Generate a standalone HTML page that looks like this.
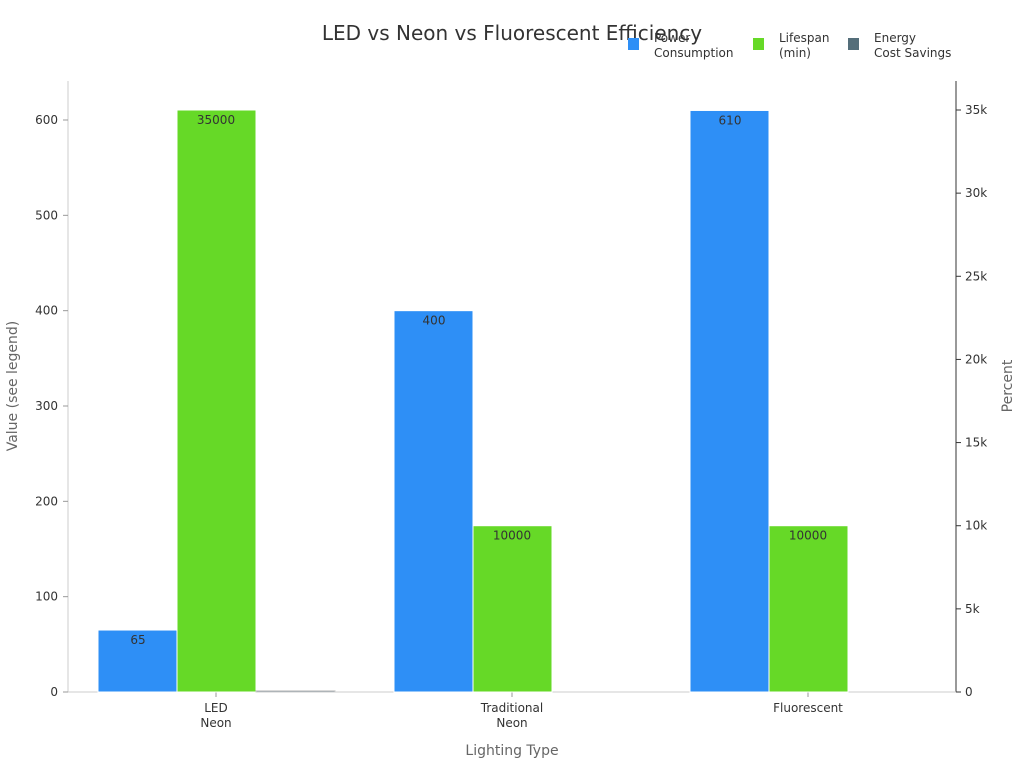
<!DOCTYPE html>
<html><head><meta charset="utf-8"><style>
body{margin:0;background:#fff;font-family:"Liberation Sans","DejaVu Sans",sans-serif}
svg text{font-family:"DejaVu Sans","Liberation Sans",sans-serif}
</style></head><body>
<svg id="c" width="1024" height="768" xmlns="http://www.w3.org/2000/svg">
<text x="512" y="40" text-anchor="middle" font-size="20" fill="#333">LED vs Neon vs Fluorescent Efficiency</text>
<g>
<rect x="628" y="38" width="11" height="12" fill="#2e8ff6"/>
<text x="654" y="42" font-size="12" fill="#333"><tspan x="654">Power</tspan><tspan x="654" dy="15">Consumption</tspan></text>
<rect x="753" y="38" width="11" height="12" fill="#66d927"/>
<text x="779" y="42" font-size="12" fill="#333"><tspan x="779">Lifespan</tspan><tspan x="779" dy="15">(min)</tspan></text>
<rect x="848" y="38" width="11" height="12" fill="#546e7a"/>
<text x="874" y="42" font-size="12" fill="#333"><tspan x="874">Energy</tspan><tspan x="874" dy="15">Cost Savings</tspan></text>
</g>
<line x1="68" y1="81" x2="68" y2="692" stroke="#ccc"/>
<line x1="956" y1="81" x2="956" y2="692" stroke="#333"/>
<line x1="68" y1="692" x2="956" y2="692" stroke="#ccc"/>
<text transform="translate(17,386) rotate(-90)" text-anchor="middle" font-size="14" fill="#666">Value (see legend)</text>
<text transform="translate(1012,386) rotate(-90)" text-anchor="middle" font-size="14" fill="#666">Percent</text>
<text x="512" y="755" text-anchor="middle" font-size="14" fill="#666">Lighting Type</text>
<g id="g"></g>
</svg>
<script>
const categories=[["LED","Neon"],["Traditional","Neon"],["Fluorescent"]];
const power=[65,400,610];
const lifespan=[35000,10000,10000];
const savings=[75,0,0];
const leftTicks=[0,100,200,300,400,500,600];
const rightTicks=[0,5000,10000,15000,20000,25000,30000,35000];
const rightTickLabels=["0","5k","10k","15k","20k","25k","30k","35k"];
const NS="http://www.w3.org/2000/svg",g=document.getElementById('g');
const y0=692,yL=v=>y0-v*(572/600),yR=v=>y0-v*(582/35000);
const gx=i=>216+i*296;
function mk(t,a,txt){const e=document.createElementNS(NS,t);for(const k in a)e.setAttribute(k,a[k]);if(txt!=null)e.textContent=txt;g.appendChild(e);return e;}
leftTicks.forEach(v=>{mk('line',{x1:63,x2:68,y1:yL(v),y2:yL(v),stroke:'#999'});
const t=mk('text',{x:58,y:yL(v)+4,'text-anchor':'end','font-size':12,fill:'#333'},v);

});
rightTicks.forEach((v,i)=>{mk('line',{x1:956,x2:961,y1:yR(v),y2:yR(v),stroke:'#333'});
const t=mk('text',{x:965,y:yR(v)+4,'font-size':12,fill:'#333'},rightTickLabels[i]);

});
categories.forEach((c,i)=>{const x=gx(i);
mk('line',{x1:x,x2:x,y1:692,y2:697,stroke:'#999'});
const t=mk('text',{x:x,y:712,'text-anchor':'middle','font-size':12,fill:'#333'});


c.forEach((s,j)=>{const ts=document.createElementNS(NS,'tspan');ts.setAttribute('x',x);ts.setAttribute('dy',j?15:0);ts.textContent=s;t.appendChild(ts);});
const bw=79;
const b1=mk('rect',{x:x-118,y:yL(power[i]),width:bw,height:y0-yL(power[i]),fill:'#2e8ff6',stroke:'#fff','stroke-width':1});


const l1=mk('text',{x:x-78,y:yL(power[i])+14,'text-anchor':'middle','font-size':12,fill:'#333'},power[i]);


const b2=mk('rect',{x:x-39,y:yR(lifespan[i]),width:bw,height:y0-yR(lifespan[i]),fill:'#66d927',stroke:'#fff','stroke-width':1});


const l2=mk('text',{x:x,y:yR(lifespan[i])+14,'text-anchor':'middle','font-size':12,fill:'#333'},lifespan[i]);


if(savings[i]>0){const b3=mk('rect',{x:x+40,y:yR(savings[i]),width:bw,height:Math.max(1,y0-yR(savings[i])),fill:'#546e7a',stroke:'#ccc','stroke-width':1});

}
});
</script>
</body></html>
